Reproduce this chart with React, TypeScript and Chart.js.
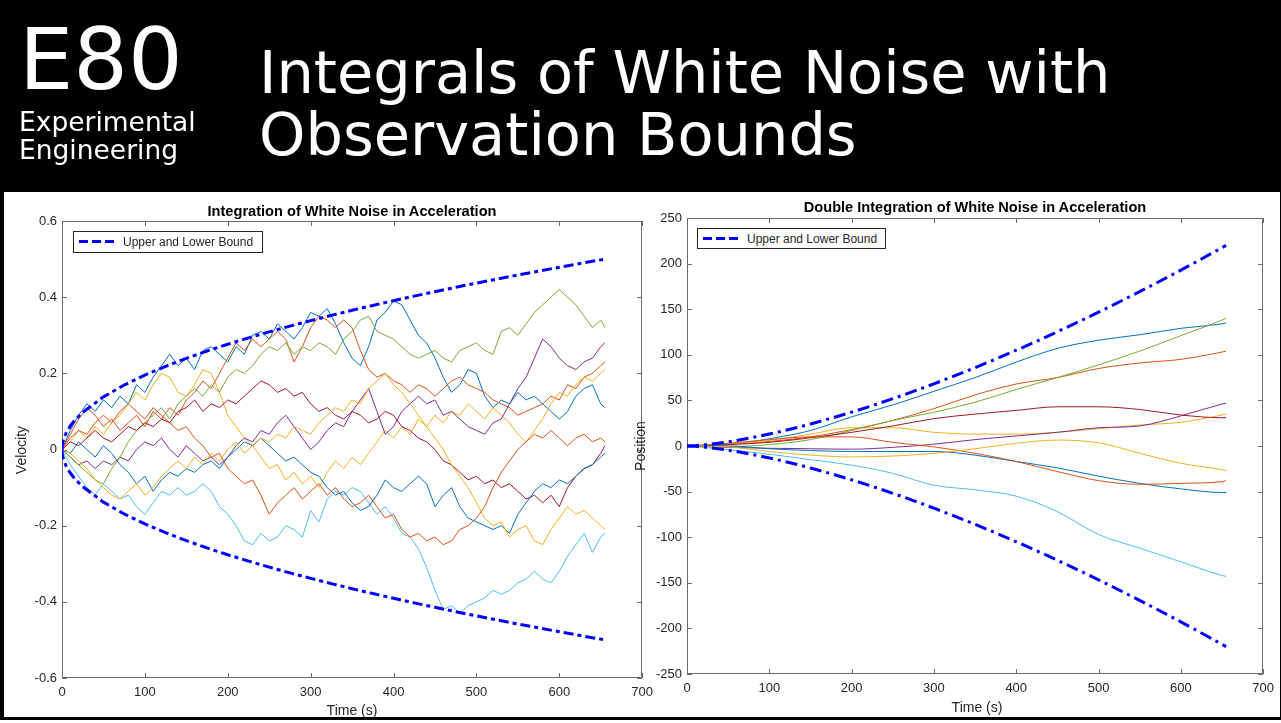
import React, { useEffect, useRef } from 'react';
import { Chart, registerables } from 'chart.js';

Chart.register(...registerables);

// ---------- shared axes ----------
const X_TICKS = [0, 100, 200, 300, 400, 500, 600, 700];
const X_TICK_LABELS = ['0', '100', '200', '300', '400', '500', '600', '700'];
const VEL_TICKS = [-0.6, -0.4, -0.2, 0, 0.2, 0.4, 0.6];
const VEL_TICK_LABELS = ['-0.6', '-0.4', '-0.2', '0', '0.2', '0.4', '0.6'];
const POS_TICKS = [-250, -200, -150, -100, -50, 0, 50, 100, 150, 200, 250];
const POS_TICK_LABELS = ['-250', '-200', '-150', '-100', '-50', '0', '50', '100', '150', '200', '250'];

// ---------- bounds ----------
const BOUND_T = [0, 0.5, 2, 5, 10, 15, 25, 50, 75, 100, 125, 150, 175, 200, 225, 250, 275, 300, 325, 350, 375, 400, 425, 450, 475, 500, 525, 550, 575, 600, 625, 655];
const VEL_BOUND = [0, 0.0138, 0.0276, 0.0437, 0.0618, 0.0757, 0.0977, 0.1382, 0.1692, 0.1954, 0.2184, 0.2393, 0.2585, 0.2763, 0.2931, 0.3089, 0.324, 0.3384, 0.3522, 0.3655, 0.3783, 0.3907, 0.4028, 0.4144, 0.4258, 0.4369, 0.4476, 0.4582, 0.4685, 0.4785, 0.4884, 0.5];
const POS_BOUND = [0, 0.005, 0.04, 0.15, 0.41, 0.76, 1.64, 4.64, 8.52, 13.12, 18.34, 24.11, 30.38, 37.12, 44.29, 51.88, 59.85, 68.19, 76.89, 85.93, 95.3, 104.99, 114.99, 125.28, 135.86, 146.73, 157.87, 169.28, 180.95, 192.88, 205.06, 220];

// ---------- velocity (single integration) ----------
const VEL_T = [0, 10, 20, 30, 40, 50, 60, 70, 80, 90, 100, 110, 120, 130, 140, 150, 160, 170, 180, 190, 200, 210, 220, 230, 240, 250, 260, 270, 280, 290, 300, 310, 320, 330, 340, 350, 360, 370, 380, 390, 400, 410, 420, 430, 440, 450, 460, 470, 480, 490, 500, 510, 520, 530, 540, 550, 560, 570, 580, 590, 600, 610, 620, 630, 640, 650, 655];
const VEL_BLUE_A = [0, 0.05, 0.09, 0.12, 0.10, 0.13, 0.11, 0.14, 0.12, 0.17, 0.15, 0.19, 0.22, 0.25, 0.22, 0.24, 0.21, 0.26, 0.27, 0.25, 0.23, 0.27, 0.25, 0.30, 0.31, 0.29, 0.33, 0.31, 0.29, 0.32, 0.36, 0.35, 0.37, 0.33, 0.28, 0.24, 0.22, 0.27, 0.34, 0.36, 0.39, 0.38, 0.34, 0.30, 0.28, 0.24, 0.19, 0.15, 0.17, 0.21, 0.20, 0.14, 0.11, 0.13, 0.12, 0.15, 0.13, 0.14, 0.12, 0.10, 0.08, 0.10, 0.14, 0.16, 0.17, 0.12, 0.11];
const VEL_ORANGE_A = [0, 0.04, 0.08, 0.11, 0.09, 0.06, 0.08, 0.05, 0.07, 0.09, 0.06, 0.10, 0.08, 0.11, 0.09, 0.13, 0.15, 0.18, 0.16, 0.20, 0.24, 0.28, 0.26, 0.29, 0.27, 0.29, 0.31, 0.29, 0.23, 0.27, 0.32, 0.35, 0.34, 0.32, 0.34, 0.32, 0.26, 0.21, 0.19, 0.20, 0.18, 0.17, 0.15, 0.17, 0.16, 0.14, 0.16, 0.18, 0.19, 0.17, 0.16, 0.15, 0.13, 0.12, 0.11, 0.09, 0.10, 0.11, 0.12, 0.14, 0.13, 0.17, 0.16, 0.19, 0.20, 0.22, 0.23];
const VEL_YELLOW_A = [0, 0.02, 0.05, 0.03, 0.06, 0.04, 0.07, 0.09, 0.12, 0.15, 0.13, 0.17, 0.20, 0.19, 0.15, 0.14, 0.17, 0.21, 0.20, 0.15, 0.09, 0.06, 0.03, 0.01, -0.02, -0.05, -0.04, -0.08, -0.06, -0.09, -0.07, -0.10, -0.06, -0.03, -0.05, -0.02, -0.04, -0.01, 0.02, 0.05, 0.03, 0.06, 0.04, 0.08, 0.06, 0.09, 0.07, 0.10, 0.09, 0.12, 0.10, 0.08, 0.11, 0.09, 0.07, 0.04, 0.02, 0.05, 0.08, 0.12, 0.15, 0.14, 0.17, 0.19, 0.18, 0.20, 0.21];
const VEL_PURPLE = [0, -0.02, -0.04, -0.03, -0.05, -0.03, -0.04, -0.02, -0.03, 0.00, 0.02, 0.01, 0.03, 0.00, -0.02, 0.01, -0.01, -0.03, -0.02, -0.04, -0.02, 0.01, 0.03, 0.02, 0.05, 0.04, 0.07, 0.09, 0.06, 0.03, 0.00, 0.02, 0.05, 0.07, 0.06, 0.10, 0.13, 0.16, 0.10, 0.04, 0.06, 0.10, 0.12, 0.14, 0.12, 0.13, 0.09, 0.10, 0.08, 0.06, 0.05, 0.04, 0.07, 0.08, 0.12, 0.16, 0.19, 0.24, 0.29, 0.27, 0.24, 0.22, 0.21, 0.23, 0.24, 0.27, 0.28];
const VEL_GREEN = [0, -0.02, -0.04, -0.06, -0.08, -0.09, -0.05, -0.02, 0.02, 0.05, 0.07, 0.09, 0.11, 0.08, 0.12, 0.14, 0.16, 0.14, 0.17, 0.15, 0.19, 0.21, 0.20, 0.22, 0.25, 0.27, 0.26, 0.28, 0.25, 0.27, 0.26, 0.28, 0.27, 0.25, 0.29, 0.31, 0.34, 0.35, 0.31, 0.30, 0.29, 0.27, 0.25, 0.24, 0.25, 0.26, 0.24, 0.23, 0.26, 0.27, 0.28, 0.26, 0.25, 0.31, 0.32, 0.30, 0.33, 0.36, 0.38, 0.40, 0.42, 0.40, 0.38, 0.35, 0.32, 0.34, 0.32];
const VEL_LIGHTBLUE = [0, -0.04, -0.07, -0.10, -0.12, -0.09, -0.11, -0.13, -0.12, -0.15, -0.17, -0.14, -0.11, -0.12, -0.10, -0.12, -0.11, -0.09, -0.11, -0.15, -0.17, -0.20, -0.24, -0.25, -0.22, -0.24, -0.23, -0.20, -0.21, -0.23, -0.16, -0.19, -0.13, -0.11, -0.12, -0.10, -0.11, -0.14, -0.17, -0.15, -0.18, -0.22, -0.23, -0.26, -0.31, -0.37, -0.42, -0.41, -0.43, -0.41, -0.40, -0.39, -0.37, -0.38, -0.37, -0.35, -0.34, -0.32, -0.34, -0.35, -0.32, -0.28, -0.25, -0.22, -0.27, -0.23, -0.22];
const VEL_DARKRED = [0, 0.02, 0.01, 0.03, 0.05, 0.03, 0.02, 0.04, 0.06, 0.05, 0.07, 0.06, 0.08, 0.07, 0.10, 0.11, 0.13, 0.10, 0.12, 0.11, 0.13, 0.12, 0.14, 0.16, 0.18, 0.17, 0.15, 0.16, 0.14, 0.15, 0.12, 0.10, 0.11, 0.09, 0.08, 0.10, 0.09, 0.07, 0.08, 0.10, 0.09, 0.06, 0.05, 0.03, 0.02, 0.00, -0.03, -0.04, -0.06, -0.08, -0.07, -0.09, -0.08, -0.10, -0.09, -0.11, -0.13, -0.12, -0.14, -0.12, -0.15, -0.10, -0.07, -0.05, -0.04, -0.01, 0.01];
const VEL_BLUE_B = [0, -0.01, 0.02, 0.00, -0.02, 0.01, -0.01, -0.04, -0.06, -0.09, -0.07, -0.11, -0.08, -0.06, -0.07, -0.05, -0.06, -0.04, -0.03, -0.05, -0.02, 0.00, 0.02, 0.01, 0.03, 0.01, -0.01, -0.03, -0.02, -0.04, -0.06, -0.07, -0.10, -0.12, -0.11, -0.14, -0.16, -0.15, -0.12, -0.08, -0.10, -0.11, -0.09, -0.07, -0.09, -0.15, -0.12, -0.10, -0.15, -0.18, -0.19, -0.20, -0.21, -0.20, -0.22, -0.17, -0.14, -0.11, -0.09, -0.10, -0.08, -0.09, -0.07, -0.05, -0.04, -0.02, -0.01];
const VEL_ORANGE_B = [0, 0.03, 0.05, 0.04, 0.07, 0.09, 0.07, 0.10, 0.12, 0.10, 0.08, 0.11, 0.09, 0.07, 0.05, 0.06, 0.03, 0.01, -0.02, -0.01, -0.05, -0.07, -0.09, -0.08, -0.12, -0.17, -0.14, -0.12, -0.10, -0.13, -0.11, -0.09, -0.12, -0.10, -0.13, -0.15, -0.14, -0.12, -0.15, -0.18, -0.17, -0.21, -0.23, -0.22, -0.24, -0.23, -0.25, -0.24, -0.21, -0.20, -0.18, -0.15, -0.10, -0.06, -0.03, 0.00, 0.02, 0.04, 0.03, 0.05, 0.03, 0.01, 0.03, 0.04, 0.02, 0.03, 0.02];
const VEL_YELLOW_B = [0, -0.01, -0.03, -0.05, -0.08, -0.10, -0.12, -0.13, -0.11, -0.09, -0.12, -0.10, -0.07, -0.05, -0.03, -0.05, -0.02, -0.04, -0.01, -0.03, 0.00, 0.02, -0.01, 0.01, 0.03, 0.02, 0.04, 0.03, 0.06, 0.05, 0.04, 0.07, 0.09, 0.11, 0.10, 0.13, 0.12, 0.16, 0.18, 0.20, 0.17, 0.15, 0.12, 0.09, 0.06, 0.03, 0.00, -0.04, -0.07, -0.10, -0.14, -0.18, -0.20, -0.19, -0.23, -0.21, -0.20, -0.24, -0.25, -0.21, -0.18, -0.15, -0.17, -0.16, -0.18, -0.20, -0.21];

// ---------- position (double integration) ----------
const POS_T = [0, 50, 100, 150, 200, 250, 300, 350, 400, 450, 500, 550, 600, 650, 655];
const POS_BLUE_A = [0, 1.5, 8, 17, 32, 45, 60, 75, 92, 107, 116, 122, 129, 134, 135];
const POS_ORANGE_A = [0, 2, 5, 10, 18, 28, 41, 56, 68, 75, 85, 91, 95, 103, 104];
const POS_YELLOW_A = [0, 2, 6, 13, 20, 20, 15, 13, 13, 15, 19, 23, 26, 34, 35];
const POS_PURPLE = [0, -1.5, -2.5, -3, -3.5, -1.5, 2, 7, 11, 15, 20, 22, 33, 46, 47];
const POS_GREEN = [0, -0.5, 1.5, 7, 17, 28, 37, 48, 62, 75, 89, 104, 121, 138, 140];
const POS_LIGHTBLUE = [0, -4, -9, -15, -21, -30, -43, -48, -55, -72, -97, -112, -127, -142, -143];
const POS_DARKRED = [0, 1.5, 4, 9, 15, 22, 30, 35, 39, 43, 43, 40, 34, 31, 31];
const POS_BLUE_B = [0, 0, -3, -5, -6, -6, -6, -10, -17, -24, -33, -41, -47, -51, -51];
const POS_ORANGE_B = [0, 3, 7, 10, 10, 4, -1, -8, -17, -28, -38, -42, -41, -39, -38];
const POS_YELLOW_B = [0, -1, -6, -10, -12, -11, -8, -3, 3, 6.5, 3.5, -8, -19, -26, -27];

const C_BLUE = '#0072BD';
const C_ORANGE = '#D95319';
const C_YELLOW = '#EDB120';
const C_PURPLE = '#7E2F8E';
const C_GREEN = '#77AC30';
const C_LIGHTBLUE = '#4DBEEE';
const C_DARKRED = '#A2142F';
const C_BOUND = '#0000FF';

const FONT = '"Liberation Sans", Arial, Helvetica, sans-serif';
const HEAD_FONT = '"DejaVu Sans", Verdana, sans-serif';
const AXIS_COLOR = '#6a6a6a';
const TEXT_COLOR = '#262626';

function lineDs(label: string, xs: number[], ys: number[], color: string, width = 1, dash: number[] = [], smooth = false) {
  return {
    label,
    data: xs.map((x, i) => ({ x, y: ys[i] })),
    borderColor: color,
    backgroundColor: color,
    borderWidth: width,
    borderDash: dash,
    pointRadius: 0,
    fill: false,
    tension: 0,
    cubicInterpolationMode: smooth ? 'monotone' : 'default',
  };
}

const matlabAxes = {
  id: 'matlabAxes',
  beforeDatasetsDraw(chart: any) {
    const { ctx, chartArea } = chart;
    const { left, right, top, bottom } = chartArea;
    const xs = chart.scales.x;
    const ys = chart.scales.y;
    const TL = 5;
    ctx.save();
    ctx.strokeStyle = AXIS_COLOR;
    ctx.lineWidth = 1;
    ctx.beginPath();
    ctx.rect(Math.round(left) + 0.5, Math.round(top) + 0.5, Math.round(right - left) - 1, Math.round(bottom - top) - 1);
    xs.ticks.forEach((t: any) => {
      const px = Math.round(xs.getPixelForValue(t.value)) + 0.5;
      ctx.moveTo(px, bottom);
      ctx.lineTo(px, bottom - TL);
      ctx.moveTo(px, top);
      ctx.lineTo(px, top + TL);
    });
    ys.ticks.forEach((t: any) => {
      const py = Math.round(ys.getPixelForValue(t.value)) + 0.5;
      ctx.moveTo(left, py);
      ctx.lineTo(left + TL, py);
      ctx.moveTo(right, py);
      ctx.lineTo(right - TL, py);
    });
    ctx.stroke();
    ctx.restore();
  },
};

function makeConfig(
  datasets: any[],
  yMin: number,
  yMax: number,
  yTicks: number[],
  yLabels: string[],
  yWidth: number,
  xHeight: number,
  padding: any,
) {
  return {
    type: 'line',
    data: { datasets },
    plugins: [matlabAxes],
    options: {
      animation: false,
      responsive: false,
      devicePixelRatio: 1,
      events: [],
      layout: { padding },
      plugins: { legend: { display: false }, title: { display: false }, tooltip: { enabled: false } },
      scales: {
        x: {
          type: 'linear',
          min: 0,
          max: 700,
          grid: { display: false, drawTicks: false },
          border: { display: false },
          ticks: {
            color: TEXT_COLOR,
            font: { family: FONT, size: 13 },
            padding: 7,
            maxRotation: 0,
            autoSkip: false,
            callback: (v: number) => X_TICK_LABELS[X_TICKS.indexOf(v)] ?? '',
          },
          afterBuildTicks: (s: any) => {
            s.ticks = X_TICKS.map((v) => ({ value: v }));
          },
          afterFit: (s: any) => {
            s.height = xHeight;
          },
        },
        y: {
          type: 'linear',
          min: yMin,
          max: yMax,
          grid: { display: false, drawTicks: false },
          border: { display: false },
          ticks: {
            color: TEXT_COLOR,
            font: { family: FONT, size: 13 },
            padding: 5,
            autoSkip: false,
            callback: (v: number) => yLabels[yTicks.indexOf(v)] ?? '',
          },
          afterBuildTicks: (s: any) => {
            s.ticks = yTicks.map((v) => ({ value: v }));
          },
          afterFit: (s: any) => {
            s.width = yWidth;
          },
        },
      },
    },
  };
}

export default function App() {
  const leftRef = useRef<HTMLCanvasElement>(null);
  const rightRef = useRef<HTMLCanvasElement>(null);

  useEffect(() => {
    const velLower = VEL_BOUND.map((v) => -v);
    const posLower = POS_BOUND.map((v) => -v);
    const velDash = [10, 4, 4, 4];
    const posDash = [12, 5, 3, 5];

    const leftDatasets = [
      lineDs('Upper and Lower Bound', BOUND_T, VEL_BOUND, C_BOUND, 3, velDash),
      lineDs('Lower', BOUND_T, velLower, C_BOUND, 3, velDash),
      lineDs('v10', VEL_T, VEL_YELLOW_B, C_YELLOW),
      lineDs('v9', VEL_T, VEL_ORANGE_B, C_ORANGE),
      lineDs('v8', VEL_T, VEL_BLUE_B, C_BLUE),
      lineDs('v7', VEL_T, VEL_DARKRED, C_DARKRED),
      lineDs('v6', VEL_T, VEL_LIGHTBLUE, C_LIGHTBLUE),
      lineDs('v5', VEL_T, VEL_GREEN, C_GREEN),
      lineDs('v4', VEL_T, VEL_PURPLE, C_PURPLE),
      lineDs('v3', VEL_T, VEL_YELLOW_A, C_YELLOW),
      lineDs('v2', VEL_T, VEL_ORANGE_A, C_ORANGE),
      lineDs('v1', VEL_T, VEL_BLUE_A, C_BLUE),
    ];
    const rightDatasets = [
      lineDs('Upper and Lower Bound', BOUND_T, POS_BOUND, C_BOUND, 3, posDash, true),
      lineDs('Lower', BOUND_T, posLower, C_BOUND, 3, posDash, true),
      lineDs('p10', POS_T, POS_YELLOW_B, C_YELLOW, 1, [], true),
      lineDs('p9', POS_T, POS_ORANGE_B, C_ORANGE, 1, [], true),
      lineDs('p8', POS_T, POS_BLUE_B, C_BLUE, 1, [], true),
      lineDs('p7', POS_T, POS_DARKRED, C_DARKRED, 1, [], true),
      lineDs('p6', POS_T, POS_LIGHTBLUE, C_LIGHTBLUE, 1, [], true),
      lineDs('p5', POS_T, POS_GREEN, C_GREEN, 1, [], true),
      lineDs('p4', POS_T, POS_PURPLE, C_PURPLE, 1, [], true),
      lineDs('p3', POS_T, POS_YELLOW_A, C_YELLOW, 1, [], true),
      lineDs('p2', POS_T, POS_ORANGE_A, C_ORANGE, 1, [], true),
      lineDs('p1', POS_T, POS_BLUE_A, C_BLUE, 1, [], true),
    ];

    const c1 = new Chart(leftRef.current as HTMLCanvasElement, makeConfig(
      leftDatasets, -0.6, 0.6, VEL_TICKS, VEL_TICK_LABELS, 62, 40,
      { left: 0, right: 17, top: 29, bottom: 0 },
    ) as any);
    const c2 = new Chart(rightRef.current as HTMLCanvasElement, makeConfig(
      rightDatasets, -250, 250, POS_TICKS, POS_TICK_LABELS, 57, 44,
      { left: 0, right: 16, top: 26, bottom: 0 },
    ) as any);
    return () => {
      c1.destroy();
      c2.destroy();
    };
  }, []);

  return (
    <div style={{ position: 'fixed', left: 0, top: 0, width: 1281, height: 723, background: '#ffffff', overflow: 'hidden' }}>
      <canvas ref={leftRef} width={660} height={526} style={{ position: 'absolute', left: 0, top: 192, width: 660, height: 526 }} />
      <canvas ref={rightRef} width={651} height={526} style={{ position: 'absolute', left: 630, top: 192, width: 651, height: 526 }} />
      <svg width={1281} height={723} style={{ position: 'absolute', left: 0, top: 0, pointerEvents: 'none' }}>
        {/* header */}
        <rect x={0} y={0} width={1281} height={192} fill="#000" />
        <text x={19} y={89} fill="#fff" fontFamily={HEAD_FONT} fontSize={86}>E80</text>
        <text x={19} y={131} fill="#fff" fontFamily={HEAD_FONT} fontSize={26.5}>Experimental</text>
        <text x={19} y={159} fill="#fff" fontFamily={HEAD_FONT} fontSize={26.5}>Engineering</text>
        <text x={259} y={93} fill="#fff" fontFamily={HEAD_FONT} fontSize={59}>Integrals of White Noise with</text>
        <text x={259} y={155} fill="#fff" fontFamily={HEAD_FONT} fontSize={59}>Observation Bounds</text>

        {/* outer frame */}
        <rect x={0} y={0} width={4} height={720} fill="#000" />
        <rect x={0} y={717} width={1281} height={3} fill="#000" />
        <rect x={1280} y={0} width={1} height={720} fill="#000" />

        {/* left chart texts */}
        <text x={352} y={216} textAnchor="middle" fontFamily={FONT} fontWeight="bold" fontSize={14.6} fill="#000">Integration of White Noise in Acceleration</text>
        <text x={352} y={715} textAnchor="middle" fontFamily={FONT} fontSize={14} fill={TEXT_COLOR}>Time (s)</text>
        <text transform="translate(26,450) rotate(-90)" textAnchor="middle" fontFamily={FONT} fontSize={14} fill={TEXT_COLOR}>Velocity</text>
        <rect x={73.5} y={231.5} width={189} height={21} fill="#fff" stroke={TEXT_COLOR} strokeWidth={1} />
        <line x1={79} y1={241.5} x2={117} y2={241.5} stroke={C_BOUND} strokeWidth={3} strokeDasharray="9 4" />
        <text x={123} y={246} fontFamily={FONT} fontSize={12} fill={TEXT_COLOR}>Upper and Lower Bound</text>

        {/* right chart texts */}
        <text x={975} y={212} textAnchor="middle" fontFamily={FONT} fontWeight="bold" fontSize={14.6} fill="#000">Double Integration of White Noise in Acceleration</text>
        <text x={977} y={712} textAnchor="middle" fontFamily={FONT} fontSize={14} fill={TEXT_COLOR}>Time (s)</text>
        <text transform="translate(645,446) rotate(-90)" textAnchor="middle" fontFamily={FONT} fontSize={14} fill={TEXT_COLOR}>Position</text>
        <rect x={697.5} y={228.5} width={188} height={20} fill="#fff" stroke={TEXT_COLOR} strokeWidth={1} />
        <line x1={703} y1={238.5} x2={741} y2={238.5} stroke={C_BOUND} strokeWidth={3} strokeDasharray="9 4" />
        <text x={747} y={243} fontFamily={FONT} fontSize={12} fill={TEXT_COLOR}>Upper and Lower Bound</text>
      </svg>
    </div>
  );
}
